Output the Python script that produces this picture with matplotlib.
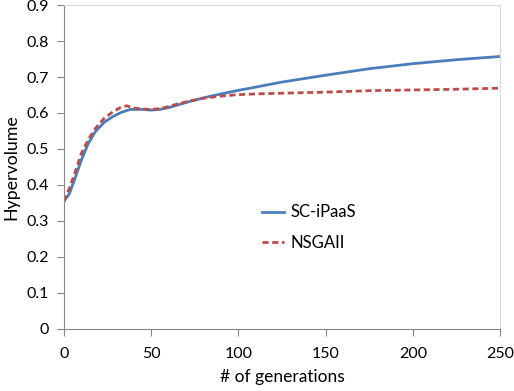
import matplotlib.pyplot as plt

plt.rcParams['font.family'] = ['Lato', 'DejaVu Sans']

# values
gens_sc = [0, 3, 6, 10, 14, 18, 23, 28, 33, 38, 45, 50, 55, 60, 65, 72, 80,
           90, 100, 110, 125, 150, 175, 200, 225, 250]
hv_sc = [0.355, 0.375, 0.414, 0.47, 0.516, 0.548, 0.574, 0.590, 0.602, 0.610,
         0.610, 0.608, 0.610, 0.615, 0.622, 0.632, 0.642, 0.653, 0.663, 0.672,
         0.686, 0.705, 0.723, 0.737, 0.748, 0.757]

gens_nsga = [0, 3, 6, 10, 14, 18, 23, 28, 33, 36, 40, 45, 50, 55, 60, 65, 72,
             80, 90, 100, 110, 125, 150, 175, 200, 225, 250]
hv_nsga = [0.355, 0.39, 0.43, 0.488, 0.527, 0.557, 0.585, 0.603, 0.617, 0.620,
           0.614, 0.611, 0.610, 0.612, 0.618, 0.625, 0.633, 0.641, 0.647, 0.651,
           0.653, 0.655, 0.658, 0.662, 0.664, 0.666, 0.669]

fig = plt.figure(figsize=(5.14, 3.91), dpi=100)
ax = fig.add_axes([0.1245, 0.1586, 0.8483, 0.8286])

ax.plot(gens_sc, hv_sc, color='#4A7EBB', lw=2, label='SC-iPaaS')
ax.plot(gens_nsga, hv_nsga, color='#BE4B48', lw=2, ls=(0, (2.2, 1.3)), label='NSGAII')

ax.set_xlim(0, 250)
ax.set_ylim(0, 0.9)
ax.set_xticks([0, 50, 100, 150, 200, 250])
ax.set_yticks([0, 0.1, 0.2, 0.3, 0.4, 0.5, 0.6, 0.7, 0.8, 0.9])
ax.set_yticklabels(['0', '0.1', '0.2', '0.3', '0.4', '0.5', '0.6', '0.7', '0.8', '0.9'])
ax.tick_params(labelsize=11.5, length=5, color='#868686', direction='out', pad=6)
ax.tick_params(axis='x', pad=8)

for s in ['left', 'bottom']:
    ax.spines[s].set_color('#868686')
for s in ['top', 'right']:
    ax.spines[s].set_color('#D9D9D9')

ax.set_xlabel('# of generations', fontsize=12.5, labelpad=6)
ax.set_ylabel('Hypervolume', fontsize=12.8, labelpad=5)

ax.legend(loc='upper left', bbox_to_anchor=(0.436, 0.41), frameon=False, fontsize=12,
          handlelength=1.3, handletextpad=0.4, labelspacing=0.85, borderpad=0)

fig.savefig('out.png', dpi=100)
